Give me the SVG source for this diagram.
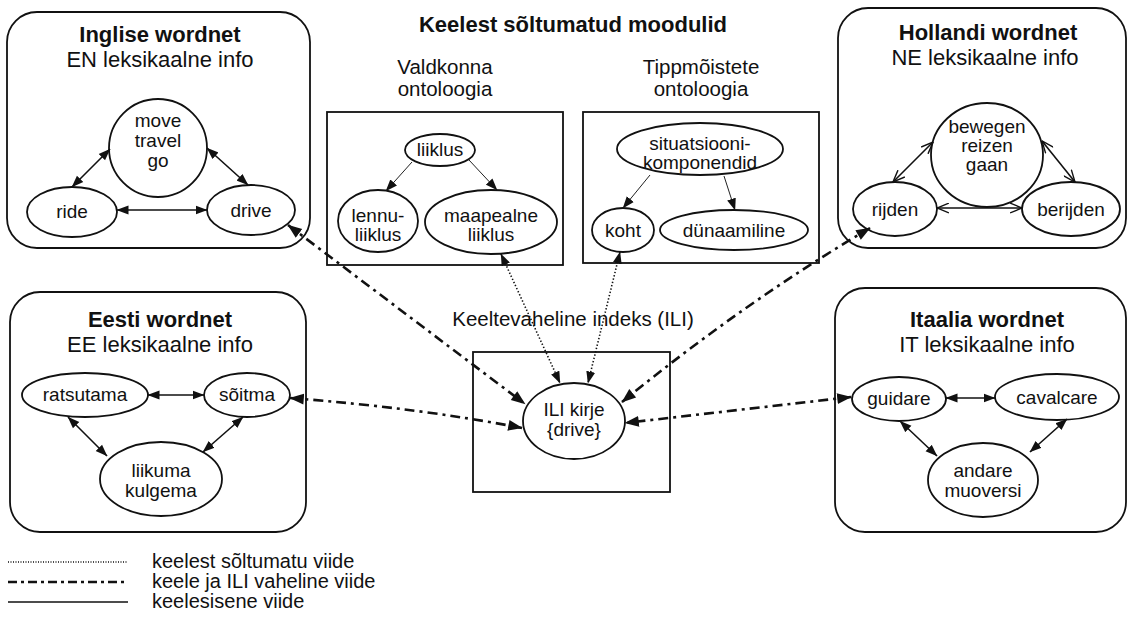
<svg xmlns="http://www.w3.org/2000/svg" width="1131" height="625" viewBox="0 0 1131 625">
<style>
text{font-family:"Liberation Sans",Arial,sans-serif;fill:#111;text-anchor:middle}
.h{font-weight:bold;font-size:22px}
.s{font-size:22px}
.o{font-size:20.5px}
.n{font-size:19px}
.lg{font-size:20px;text-anchor:start}
.box{fill:none;stroke:#111;stroke-width:1.8}
.nd{fill:#fff;stroke:#111;stroke-width:1.8}
.lnk{fill:none;stroke:#111;stroke-width:1.6}
.thin{fill:none;stroke:#222;stroke-width:1}
.dd{fill:none;stroke:#111;stroke-width:2.6;stroke-dasharray:10 5 3 5}
.dot{fill:none;stroke:#111;stroke-width:1.6;stroke-dasharray:1.4 2}
</style>
<defs>
<marker id="a" viewBox="0 0 12 10" refX="11.5" refY="5" markerWidth="12" markerHeight="10" markerUnits="userSpaceOnUse" orient="auto-start-reverse"><path d="M0,0.5 L12,5 L0,9.5 z" fill="#111"/></marker>
<marker id="b" viewBox="0 0 12 10" refX="11.5" refY="5" markerWidth="15" markerHeight="12" markerUnits="userSpaceOnUse" orient="auto-start-reverse"><path d="M0,0.5 L12,5 L0,9.5 z" fill="#111"/></marker>
<marker id="c" viewBox="0 0 12 10" refX="11.5" refY="5" markerWidth="12" markerHeight="10" markerUnits="userSpaceOnUse" orient="auto-start-reverse"><path d="M0,0.5 L12,5 L0,9.5 z" fill="#111"/></marker>
<marker id="v" viewBox="0 0 12 10" refX="11.5" refY="5" markerWidth="13" markerHeight="11" markerUnits="userSpaceOnUse" orient="auto-start-reverse"><path d="M0.5,0.5 L11.5,5 L0.5,9.5" fill="none" stroke="#111" stroke-width="1.3"/></marker>
</defs>
<rect width="1131" height="625" fill="#fff"/>

<g id="inglise">
<rect class="box" x="7" y="12" width="303" height="236" rx="30"/>
<text class="h" x="160" y="42">Inglise wordnet</text>
<text class="s" x="160" y="67">EN leksikaalne info</text>
<circle class="nd" cx="158" cy="148" r="49"/>
<text class="n" x="158" y="127">move</text>
<text class="n" x="158" y="147">travel</text>
<text class="n" x="158" y="167">go</text>
<ellipse class="nd" cx="72" cy="212" rx="45" ry="25"/>
<text class="n" x="72" y="218">ride</text>
<ellipse class="nd" cx="251" cy="210" rx="44" ry="25"/>
<text class="n" x="251" y="217">drive</text>
</g>

<g id="moodulid">
<text class="h" x="573" y="32">Keelest sõltumatud moodulid</text>
</g>

<g id="valdkonna">
<text class="o" x="445" y="74">Valdkonna</text>
<text class="o" x="445" y="96">ontoloogia</text>
<rect class="box" x="327" y="112" width="236" height="153"/>
<ellipse class="nd" cx="440" cy="150" rx="35" ry="16"/>
<text class="n" x="440" y="156">liiklus</text>
<ellipse class="nd" cx="378" cy="221" rx="40" ry="31"/>
<text class="n" x="378" y="222">lennu-</text>
<text class="n" x="378" y="241">liiklus</text>
<ellipse class="nd" cx="491" cy="222" rx="66" ry="32"/>
<text class="n" x="491" y="222">maapealne</text>
<text class="n" x="491" y="241">liiklus</text>
</g>

<g id="tippmoisted">
<text class="o" x="701" y="74">Tippmõistete</text>
<text class="o" x="701" y="96">ontoloogia</text>
<rect class="box" x="583" y="112" width="236" height="151"/>
<ellipse class="nd" cx="700" cy="149" rx="83" ry="26"/>
<text class="n" x="700" y="150">situatsiooni-</text>
<text class="n" x="700" y="169">komponendid</text>
<ellipse class="nd" cx="623" cy="230" rx="31" ry="22"/>
<text class="n" x="623" y="237">koht</text>
<ellipse class="nd" cx="734" cy="230" rx="74" ry="20"/>
<text class="n" x="734" y="237">dünaamiline</text>
</g>

<g id="hollandi">
<rect class="box" x="838" y="8" width="288" height="240" rx="30"/>
<text class="h" x="988" y="40">Hollandi wordnet</text>
<text class="s" x="985" y="65">NE leksikaalne info</text>
<ellipse class="nd" cx="987" cy="155" rx="56" ry="52"/>
<text class="n" x="987" y="133">bewegen</text>
<text class="n" x="987" y="152">reizen</text>
<text class="n" x="987" y="171">gaan</text>
<ellipse class="nd" cx="895" cy="209" rx="42" ry="27"/>
<text class="n" x="895" y="216">rijden</text>
<ellipse class="nd" cx="1071" cy="209" rx="49" ry="27"/>
<text class="n" x="1071" y="216">berijden</text>
</g>

<g id="eesti">
<rect class="box" x="10" y="292" width="296" height="240" rx="30"/>
<text class="h" x="160" y="327">Eesti wordnet</text>
<text class="s" x="160" y="352">EE leksikaalne info</text>
<ellipse class="nd" cx="85" cy="395" rx="63" ry="22"/>
<text class="n" x="85" y="401">ratsutama</text>
<ellipse class="nd" cx="247" cy="395" rx="43" ry="22"/>
<text class="n" x="247" y="401">sõitma</text>
<ellipse class="nd" cx="161" cy="479" rx="61" ry="37"/>
<text class="n" x="161" y="477">liikuma</text>
<text class="n" x="161" y="497">kulgema</text>
</g>

<g id="ili">
<text class="o" x="573" y="326">Keeltevaheline indeks (ILI)</text>
<rect class="box" x="473" y="352" width="197" height="140"/>
<ellipse class="nd" cx="574" cy="421" rx="51" ry="38"/>
<text class="n" x="574" y="416">ILI kirje</text>
<text class="n" x="574" y="436">{drive}</text>
</g>

<g id="itaalia">
<rect class="box" x="835" y="288" width="291" height="244" rx="30"/>
<text class="h" x="987" y="327">Itaalia wordnet</text>
<text class="s" x="987" y="352">IT leksikaalne info</text>
<ellipse class="nd" cx="899" cy="399" rx="47" ry="22"/>
<text class="n" x="899" y="405">guidare</text>
<ellipse class="nd" cx="1057" cy="397" rx="62" ry="23"/>
<text class="n" x="1057" y="404">cavalcare</text>
<ellipse class="nd" cx="983" cy="480" rx="55" ry="37"/>
<text class="n" x="983" y="477">andare</text>
<text class="n" x="983" y="497">muoversi</text>
</g>

<g id="legend">
<line class="dot" x1="8" y1="562" x2="128" y2="562" style="stroke-width:1.3;stroke-dasharray:1 1.5"/>
<text class="lg" x="152" y="568">keelest sõltumatu viide</text>
<line class="dd" x1="8" y1="582" x2="128" y2="582" style="stroke-width:2.4;stroke-dasharray:9 4 3 4"/>
<text class="lg" x="152" y="588">keele ja ILI vaheline viide</text>
<line class="lnk" x1="8" y1="602" x2="128" y2="602"/>
<text class="lg" x="152" y="608">keelesisene viide</text>
</g>

<g id="connectors">
<path class="lnk" d="M72,187 L110,149" marker-start="url(#a)" marker-end="url(#a)"/>
<path class="lnk" d="M207,148 L248,185" marker-start="url(#a)" marker-end="url(#a)"/>
<path class="lnk" d="M117,210 L207,210" marker-start="url(#a)" marker-end="url(#a)"/>

<path class="lnk" d="M893,182 L933,142" marker-start="url(#v)" marker-end="url(#v)"/>
<path class="lnk" d="M1042,141 L1075,182" marker-start="url(#v)" marker-end="url(#v)"/>
<path class="lnk" d="M937,208 L1022,208" marker-start="url(#v)" marker-end="url(#v)"/>

<path class="lnk" d="M148,395 L204,395" marker-start="url(#a)" marker-end="url(#a)"/>
<path class="lnk" d="M68,417 L107,456" marker-start="url(#a)" marker-end="url(#a)"/>
<path class="lnk" d="M243,417 L203,452" marker-start="url(#a)" marker-end="url(#a)"/>

<path class="lnk" d="M946,398 L995,398" marker-start="url(#a)" marker-end="url(#a)"/>
<path class="lnk" d="M900,421 L937,456" marker-start="url(#a)" marker-end="url(#a)"/>
<path class="lnk" d="M1067,419 L1030,452" marker-start="url(#a)" marker-end="url(#a)"/>

<path class="thin" d="M412,162 L386,191" marker-end="url(#c)"/>
<path class="thin" d="M469,160 L497,190" marker-end="url(#c)"/>
<path class="thin" d="M650,175 L623,208" marker-end="url(#c)"/>
<path class="thin" d="M724,176 L735,210" marker-end="url(#c)"/>

<path class="dot" d="M501,254 L560,383" marker-start="url(#a)" marker-end="url(#a)"/>
<path class="dot" d="M620,252 L588,383" marker-start="url(#a)" marker-end="url(#a)"/>

<path class="dd" d="M288,225 L525,404" marker-start="url(#b)" marker-end="url(#b)"/>
<path class="dd" d="M290,398 Q420,408 522,428" marker-start="url(#b)" marker-end="url(#b)"/>
<path class="dd" d="M870,228 Q746,301 622,402" marker-start="url(#b)" marker-end="url(#b)"/>
<path class="dd" d="M851,397 L625,423" marker-start="url(#b)" marker-end="url(#b)"/>
</g>
</svg>
